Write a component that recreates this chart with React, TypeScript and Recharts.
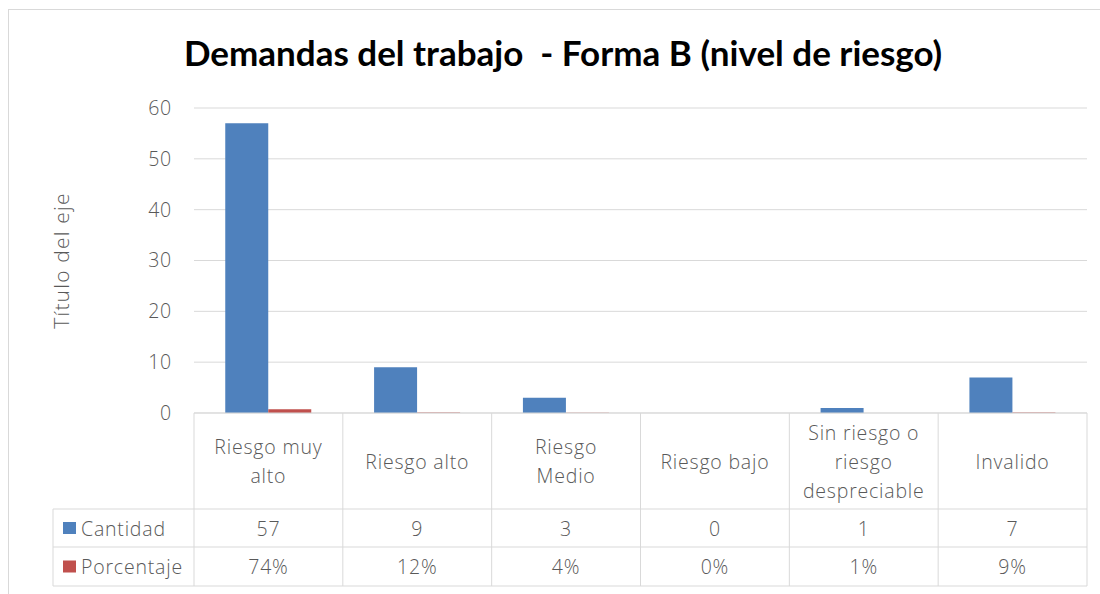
import React from "react";
import { BarChart, Bar, XAxis, YAxis, CartesianGrid } from "recharts";

const categories = [
  "Riesgo muy\nalto",
  "Riesgo alto",
  "Riesgo\nMedio",
  "Riesgo bajo",
  "Sin riesgo o\nriesgo\ndespreciable",
  "Invalido",
];
const cantidad = [57, 9, 3, 0, 1, 7];
const porcentaje = [0.74, 0.12, 0.04, 0, 0.01, 0.09];
const yTicks = [0, 10, 20, 30, 40, 50, 60];
const seriesNames = ["Cantidad", "Porcentaje"];
const colors = ["#4F81BD", "#C0504D"];

const data = categories.map((c, i) => ({
  category: c,
  cantidad: cantidad[i],
  porcentaje: porcentaje[i],
}));

const W = 1100;
const H = 594;
const MARGIN = { top: 108, right: 13, left: 0, bottom: 0 };
const Y_AXIS_W = 194;
const X_AXIS_H = 181;
const AXIS_Y = H - MARGIN.bottom - X_AXIS_H;
const PLOT_LEFT = MARGIN.left + Y_AXIS_W;
const PLOT_RIGHT = W - MARGIN.right;
const BAND = (PLOT_RIGHT - PLOT_LEFT) / categories.length;
const ROW1 = AXIS_Y + 96;
const ROW2 = ROW1 + 38;
const ROW3 = ROW2 + 39;
const TABLE_LEFT = 53;
const GRID = "#d9d9d9";
const TEXT = "#595959";
const FONT = "'Open Sans', 'Noto Sans', sans-serif";
const FS = 19.5;
const LS = 0.8;

const fmtPct = (v: number) => `${Math.round(v * 100)}%`;

const txt = {
  fill: TEXT,
  fontSize: FS,
  fontFamily: FONT,
  letterSpacing: LS,
  fontWeight: 300 as const,
};

const TableTick = (props: any) => {
  const { x, payload, index } = props;
  const label: string = payload.value;
  const lines = label.split("\n");
  const lineH = 29;
  const cy = (AXIS_Y + ROW1) / 2;
  const left = x - BAND / 2;
  const right = x + BAND / 2;
  return (
    <g>
      <line x1={left} x2={left} y1={AXIS_Y} y2={ROW3} stroke={GRID} strokeWidth={1} />
      {index === categories.length - 1 && (
        <line x1={right} x2={right} y1={AXIS_Y} y2={ROW3} stroke={GRID} strokeWidth={1} />
      )}
      {lines.map((ln, i) => (
        <text
          key={i}
          x={x}
          y={cy + (i - (lines.length - 1) / 2) * lineH}
          textAnchor="middle"
          dominantBaseline="central"
          {...txt}
        >
          {ln}
        </text>
      ))}
      <text x={x} y={(ROW1 + ROW2) / 2} textAnchor="middle" dominantBaseline="central" {...txt}>
        {cantidad[index]}
      </text>
      <text x={x} y={(ROW2 + ROW3) / 2} textAnchor="middle" dominantBaseline="central" {...txt}>
        {fmtPct(porcentaje[index])}
      </text>
      {index === 0 && (
        <g>
          {[ROW1, ROW2, ROW3].map((ry) => (
            <line key={ry} x1={TABLE_LEFT} x2={PLOT_RIGHT} y1={ry} y2={ry} stroke={GRID} strokeWidth={1} />
          ))}
          <line x1={TABLE_LEFT} x2={TABLE_LEFT} y1={ROW1} y2={ROW3} stroke={GRID} strokeWidth={1} />
          {seriesNames.map((n, i) => {
            const ry = i === 0 ? (ROW1 + ROW2) / 2 : (ROW2 + ROW3) / 2;
            return (
              <g key={n}>
                <rect x={TABLE_LEFT + 10} y={ry - 6} width={13} height={12} fill={colors[i]} />
                <text x={TABLE_LEFT + 28} y={ry} dominantBaseline="central" {...txt}>
                  {n}
                </text>
              </g>
            );
          })}
        </g>
      )}
    </g>
  );
};

const YLabel = (props: any) => {
  const vb = props.viewBox || {};
  const cy = (vb.y || 0) + (vb.height || 0) / 2;
  const cx = 61;
  return (
    <text
      x={cx}
      y={cy}
      transform={`rotate(-90, ${cx}, ${cy})`}
      textAnchor="middle"
      dominantBaseline="central"
      fill={TEXT}
      fontSize={21}
      letterSpacing={1.2}
      fontWeight={300}
      fontFamily={FONT}
    >
      Título del eje
    </text>
  );
};

export default function App() {
  return (
    <div style={{ position: "absolute", left: 0, top: 0, width: W, height: H, background: "#fff", overflow: "hidden" }}>
      <div
        style={{
          position: "absolute",
          left: 8,
          top: 9,
          width: W,
          height: H,
          borderTop: `1px solid ${GRID}`,
          borderLeft: `1px solid ${GRID}`,
        }}
      />
      <div
        style={{
          position: "absolute",
          left: 0,
          width: 1126,
          top: 31,
          textAlign: "center",
          fontFamily: "Lato, 'Open Sans', sans-serif",
          fontWeight: 700,
          fontSize: 35,
          color: "#000",
          whiteSpace: "pre",
        }}
      >
        {"Demandas del trabajo  - Forma B (nivel de riesgo)"}
      </div>
      <div style={{ position: "absolute", left: 0, top: 0 }}>
        <BarChart width={W} height={H} data={data} margin={MARGIN} barCategoryGap="21%" barGap={0}>
          <CartesianGrid vertical={false} stroke={GRID} />
          <YAxis
            width={Y_AXIS_W}
            domain={[0, 60]}
            ticks={yTicks}
            interval={0}
            axisLine={false}
            tickLine={false}
            tickMargin={16}
            tick={{ fill: TEXT, fontSize: FS, fontFamily: FONT, letterSpacing: LS, fontWeight: 300 }}
            label={<YLabel />}
          />
          <XAxis
            dataKey="category"
            height={X_AXIS_H}
            interval={0}
            axisLine={{ stroke: GRID }}
            tickLine={false}
            tick={<TableTick />}
          />
          <Bar dataKey="cantidad" fill={colors[0]} isAnimationActive={false} />
          <Bar dataKey="porcentaje" fill={colors[1]} isAnimationActive={false} />
        </BarChart>
      </div>
    </div>
  );
}
